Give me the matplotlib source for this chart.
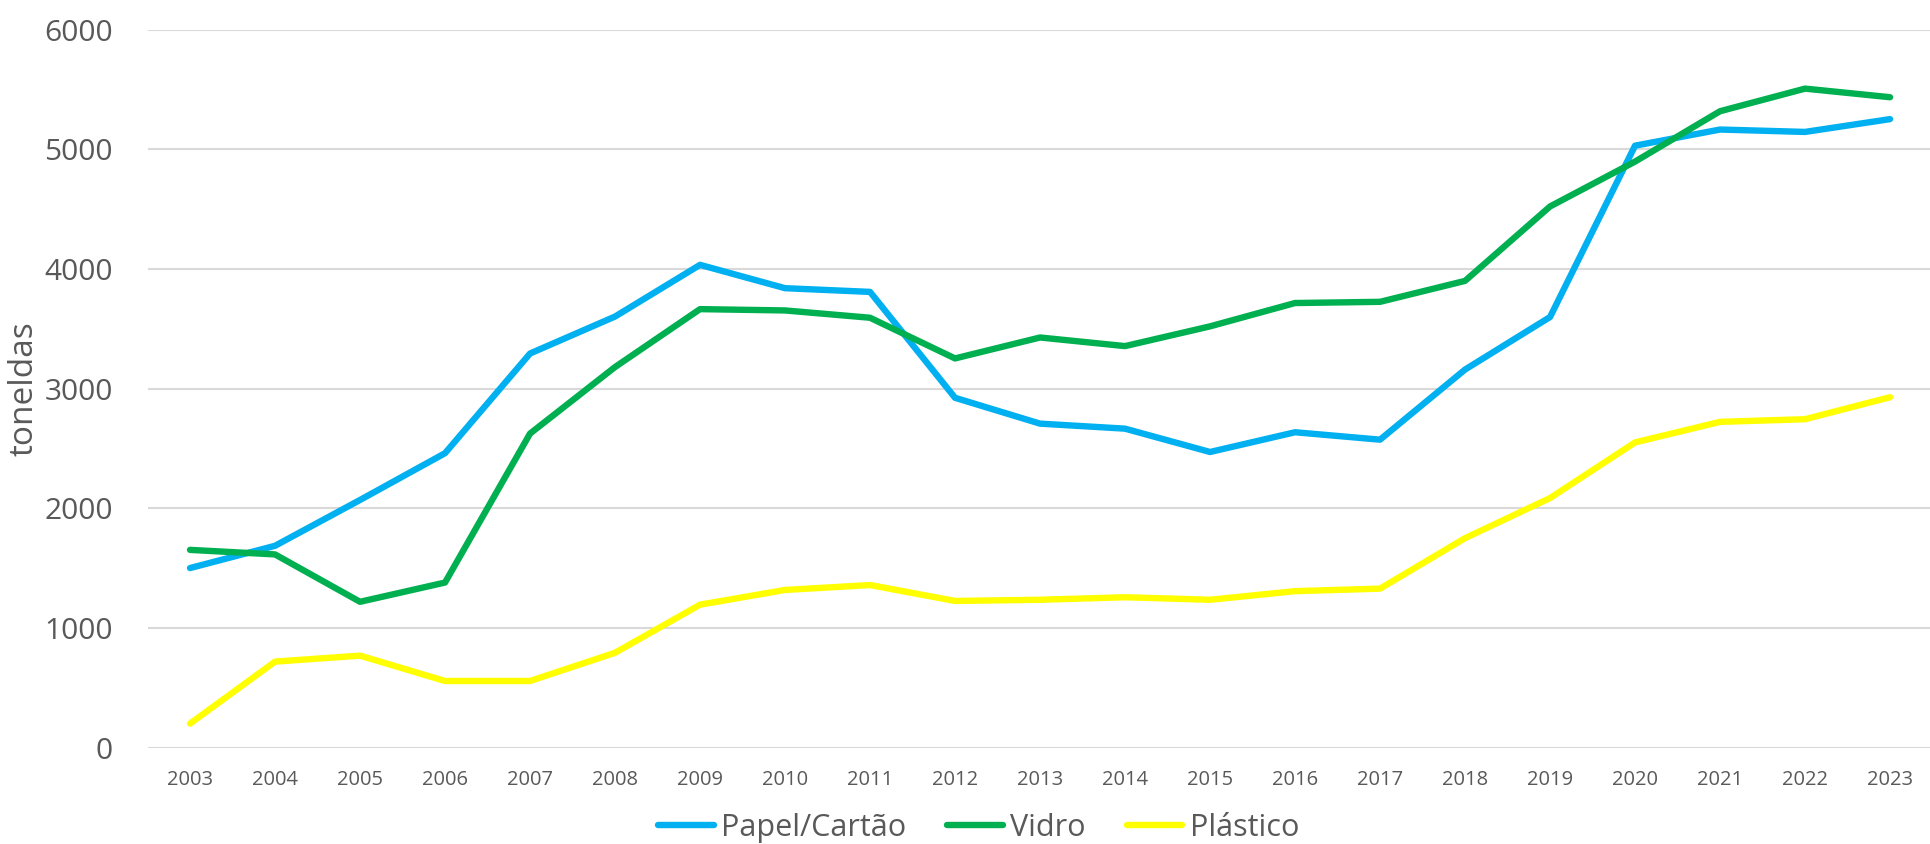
from matplotlib import pyplot as plt
import numpy as np

plt.rcParams['font.family'] = ['Open Sans', 'DejaVu Sans']

# anos e toneladas recolhidas por material
anos = [str(a) for a in range(2003, 2024)]

papel = [1500, 1686, 2069, 2460, 3293, 3602, 4034, 3839, 3808, 2923, 2707,
         2665, 2470, 2635, 2573, 3159, 3598, 5030, 5165, 5145, 5252]
vidro = [1652, 1614, 1218, 1379, 2624, 3180, 3664, 3653, 3592, 3252, 3427,
         3355, 3520, 3715, 3725, 3900, 4522, 4897, 5318, 5507, 5435]
plastico = [200, 718, 768, 556, 556, 792, 1194, 1317, 1358, 1225, 1235,
            1256, 1235, 1307, 1328, 1750, 2085, 2550, 2722, 2744, 2928]

cinza = "#595959"
lw = 4.6

fig = plt.figure(figsize=(19.31, 8.44), dpi=100)
ax = fig.add_axes([0.0764, 0.1143, 0.9244, 0.8506])

x = np.arange(len(anos))
ax.plot(x, papel, color="#00B0F0", lw=lw, solid_capstyle="round",
        solid_joinstyle="round", label="Papel/Cartão")
ax.plot(x, vidro, color="#00B050", lw=lw, solid_capstyle="round",
        solid_joinstyle="round", label="Vidro")
ax.plot(x, plastico, color="#FFFF00", lw=lw, solid_capstyle="round",
        solid_joinstyle="round", label="Plástico")

ax.set_xlim(-0.5, len(anos) - 0.5)
ax.set_ylim(0, 6000)
ax.set_yticks(range(0, 6001, 1000))
ax.set_xticks(x)
ax.set_xticklabels(anos)
ax.grid(axis="y", color="#D9D9D9", lw=1.5)
ax.set_axisbelow(True)
for s in ax.spines.values():
    s.set_visible(False)
ax.tick_params(axis="both", length=0, colors=cinza)
ax.tick_params(axis="y", labelsize=21.5, pad=25)
ax.tick_params(axis="x", labelsize=14.5, pad=16)

ax.set_ylabel("toneldas", fontsize=24, color=cinza)
ax.yaxis.set_label_coords(-0.0597, 0.5)

fig.legend(loc="center", bbox_to_anchor=(0.5068, 16 / 844), ncol=3,
           frameon=False, fontsize=22, labelcolor=cinza, handlelength=1.83,
           handletextpad=0.24, columnspacing=1.33)

plt.savefig("out.png")
